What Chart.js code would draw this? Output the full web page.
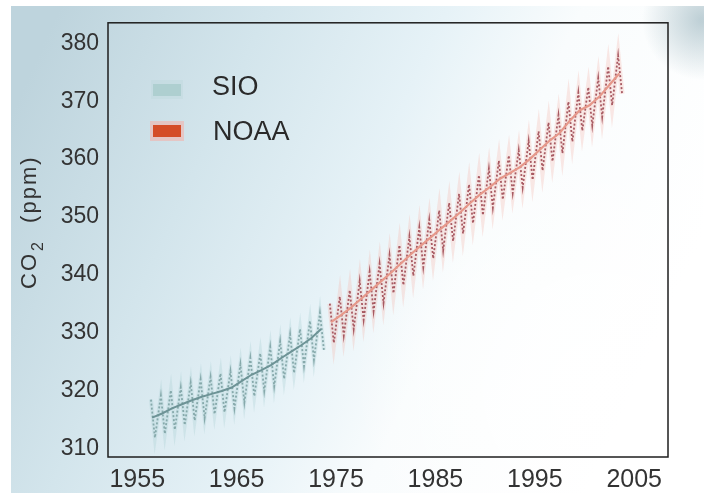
<!DOCTYPE html>
<html><head><meta charset="utf-8">
<script src="https://cdn.jsdelivr.net/npm/chart.js@4.4.1/dist/chart.umd.min.js"></script>
<style>html,body{margin:0;padding:0;background:#fff}#wrap{width:704px;height:493px}</style>
</head><body><div id="wrap"><canvas id="c" width="704" height="493"></canvas></div>
<script>
const xTicks = [1955, 1965, 1975, 1985, 1995, 2005];
const yTicks = [310, 320, 330, 340, 350, 360, 370, 380];

const sioYears = [1956,1957,1958,1959,1960,1961,1962,1963,1964,1965,1966,1967,1968,1969,1970,1971,1972,1973];
const sioMean  = [315.3,316.0,316.9,317.6,318.3,318.9,319.4,319.9,320.5,321.6,322.7,323.5,324.4,325.6,326.7,327.8,329.0,330.6];
const sioMax   = [318.4,319.1,320.0,320.5,321.3,321.9,322.3,322.9,323.3,324.5,325.6,326.4,327.5,328.5,329.7,330.6,332.0,333.4];
const sioMin   = [311.8,312.5,313.2,314.0,314.8,315.2,315.9,316.2,316.9,317.9,319.0,319.9,320.7,322.0,323.0,324.2,325.3,327.0];

const noaaYears = [1974,1975,1976,1977,1978,1979,1980,1981,1982,1983,1984,1985,1986,1987,1988,1989,1990,1991,1992,1993,1994,1995,1996,1997,1998,1999,2000,2001,2002,2003];
const noaaMean  = [331.8,333.0,334.3,335.8,337.3,338.8,340.3,341.9,343.5,345.0,346.4,347.9,349.3,350.8,352.4,353.9,355.2,356.6,357.6,358.6,360.0,361.6,363.2,364.5,366.6,368.4,369.3,370.8,372.8,374.8];
const noaaMax   = [335.0,336.2,337.3,338.9,340.5,341.9,343.4,345.1,346.6,348.2,349.5,351.1,352.4,354.0,355.6,357.2,358.3,359.7,360.6,361.5,363.1,364.8,366.3,367.6,369.9,371.5,372.4,374.0,376.0,377.9];
const noaaMin   = [328.2,329.5,330.6,332.2,333.7,335.1,336.8,338.2,339.8,341.3,342.8,344.2,345.8,347.1,348.9,350.3,351.6,353.0,354.1,355.1,356.4,358.0,359.6,361.0,363.0,364.9,365.8,367.3,369.3,371.3];

const seriesLabels = ['SIO', 'NOAA'];

function zigzag(years, mx, mn) {
  const pts = [];
  years.forEach((y, i) => {
    pts.push({x: y + 0.38, y: mx[i]});
    pts.push({x: y + 0.78, y: mn[i]});
  });
  return pts;
}
function meanPts(years, m) { return years.map((y, i) => ({x: y + 0.5, y: m[i]})); }

const sioZig = zigzag(sioYears, sioMax, sioMin);
const noaaZig = zigzag(noaaYears, noaaMax, noaaMin);

const bgPlugin = {
  id: 'bg',
  beforeDraw(chart) {
    const ctx = chart.ctx, W = chart.width, H = chart.height;
    ctx.save();
    ctx.fillStyle = '#fff';
    ctx.fillRect(0, 0, W, H);
    const g = ctx.createLinearGradient(0, 140, 620, 420);
    g.addColorStop(0, '#bed4dd');
    g.addColorStop(0.28, '#d3e5ec');
    g.addColorStop(0.52, '#e6f2f7');
    g.addColorStop(0.7, '#f9fcfd');
    g.addColorStop(1, '#ffffff');
    ctx.fillStyle = g;
    ctx.fillRect(11, 6, W - 11, H - 6);
    const r = ctx.createRadialGradient(600, 390, 10, 600, 390, 250);
    r.addColorStop(0, 'rgba(255,255,255,0.9)');
    r.addColorStop(1, 'rgba(255,255,255,0)');
    ctx.fillStyle = r;
    ctx.fillRect(11, 6, W - 11, H - 6);
    const b = ctx.createRadialGradient(702, 20, 2, 702, 20, 60);
    b.addColorStop(0, 'rgba(150,178,188,0.6)');
    b.addColorStop(1, 'rgba(150,178,188,0)');
    ctx.fillStyle = b;
    ctx.fillRect(600, 6, W - 600, 100);
    ctx.restore();
  },
  afterDraw(chart) {
    const ctx = chart.ctx, a = chart.chartArea;
    ctx.save();
    ctx.strokeStyle = '#1e1e1e';
    ctx.lineWidth = 1.5;
    ctx.strokeRect(a.left, a.top, a.right - a.left, a.bottom - a.top);
    ctx.translate(36, 289);
    ctx.rotate(-Math.PI / 2);
    ctx.fillStyle = '#333';
    ctx.textBaseline = 'alphabetic';
    ctx.textAlign = 'left';
    try { ctx.letterSpacing = '2px'; } catch (e) {}
    ctx.font = '22px "Liberation Sans", Arial, sans-serif';
    ctx.fillText('CO', 0, 0);
    let w = ctx.measureText('CO').width;
    ctx.font = '16px "Liberation Sans", Arial, sans-serif';
    ctx.fillText('2', w + 1, 7);
    w += ctx.measureText('2').width + 1;
    ctx.font = '22px "Liberation Sans", Arial, sans-serif';
    ctx.fillText('  (ppm)', w + 1, 0);
    ctx.restore();
    ctx.save();
    ctx.fillStyle = 'rgba(185,215,218,0.35)';
    ctx.fillRect(151, 80, 32, 19);
    ctx.fillStyle = '#aecfd0';
    ctx.fillRect(153, 84, 28, 12);
    ctx.fillStyle = 'rgba(245,175,165,0.55)';
    ctx.fillRect(150, 121, 34, 20);
    ctx.fillStyle = '#d44d28';
    ctx.fillRect(153, 125, 28, 12);
    ctx.fillStyle = '#2a2a2a';
    ctx.font = '27px "Liberation Sans", Arial, sans-serif';
    ctx.textBaseline = 'alphabetic';
    ctx.fillText(seriesLabels[0], 212, 95);
    ctx.fillText(seriesLabels[1], 213, 140);
    ctx.restore();
  }
};

const tickFont = {family: '"Liberation Sans", Arial, sans-serif'};

new Chart(document.getElementById('c'), {
  type: 'scatter',
  data: {
    datasets: [
      {label: 'SIO halo', data: sioZig, showLine: true, borderColor: 'rgba(165,205,210,0.3)', borderWidth: 4, pointRadius: 0, order: 3},
      {label: 'SIO', data: sioZig, showLine: true, borderColor: '#86a9ab', borderWidth: 1.8, borderDash: [2, 2], pointRadius: 0, order: 2},
      {label: 'SIO mean', data: meanPts(sioYears, sioMean), showLine: true, borderColor: '#6d9396', borderWidth: 2, pointRadius: 0, order: 1},
      {label: 'NOAA halo', data: noaaZig, showLine: true, borderColor: 'rgba(245,175,165,0.28)', borderWidth: 5, pointRadius: 0, order: 3},
      {label: 'NOAA', data: noaaZig, showLine: true, borderColor: '#a85a62', borderWidth: 1.8, borderDash: [2, 2], pointRadius: 0, order: 2},
      {label: 'NOAA mean', data: meanPts(noaaYears, noaaMean), showLine: true, borderColor: '#e6988a', borderWidth: 2.2, pointRadius: 0, order: 1}
    ]
  },
  options: {
    responsive: false,
    animation: false,
    devicePixelRatio: 1,
    layout: {padding: {left: 0, right: 36, top: 22, bottom: 0}},
    plugins: {legend: {display: false}, tooltip: {enabled: false}},
    scales: {
      x: {
        type: 'linear', min: 1952.06, max: 2008.4,
        grid: {display: false, drawTicks: false},
        border: {display: false},
        afterBuildTicks: s => { s.ticks = xTicks.map(v => ({value: v})); },
        afterFit: s => { s.height = 36; },
        ticks: {color: '#333', font: {...tickFont, size: 25}, padding: 8, maxRotation: 0, autoSkip: false, callback: v => String(v)}
      },
      y: {
        type: 'linear', min: 308.48, max: 383.56,
        grid: {display: false, drawTicks: false},
        border: {display: false},
        afterBuildTicks: s => { s.ticks = yTicks.map(v => ({value: v})); },
        afterFit: s => { s.width = 108; },
        ticks: {color: '#333', font: {...tickFont, size: 23}, padding: 9, autoSkip: false, callback: v => String(v)}
      }
    }
  },
  plugins: [bgPlugin]
});
</script>
</body></html>
